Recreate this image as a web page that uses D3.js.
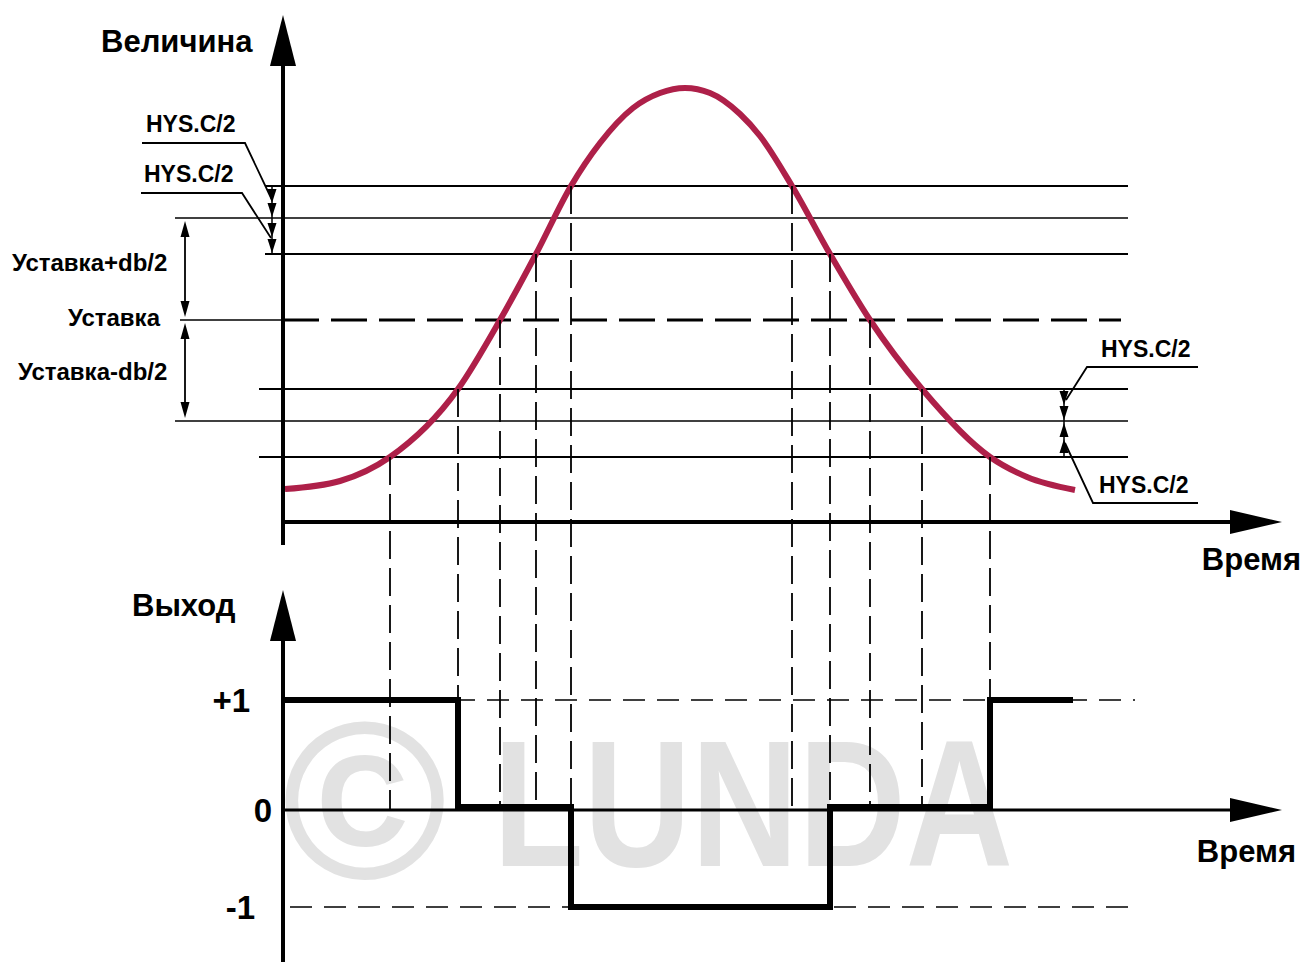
<!DOCTYPE html>
<html><head><meta charset="utf-8">
<script src="https://cdn.jsdelivr.net/npm/d3@7"></script>
<style>body{margin:0;background:#fff} svg{display:block}</style>
</head><body>
<script>
// ---------- data ----------
const curveTime  = [0.2, 5.7, 10.7, 17.5, 21.7, 25.3, 28.8, 31.7, 35.0, 37.7, 40.2, 42.7, 45.7, 47.7, 50.9, 54.7, 58.7, 63.9, 70.7, 74.4, 79.2];
const curveValue = [-16.9, -16.1, -13.7, -6.9, 0, 6.6, 13.4, 17.7, 21.2, 22.7, 23.2, 22.7, 20.6, 18.4, 13.4, 6.6, 0, -6.9, -13.7, -15.7, -17.0];
const levelValues = [13.4, 10.2, 6.6, 0, -6.9, -10.1, -13.7];
const crossTimes  = [10.7, 17.5, 21.7, 25.3, 28.8, 50.9, 54.7, 58.7, 63.9, 70.7];
const crossLevels = [-13.7, -6.9, 0, 6.6, 13.4, 13.4, 6.6, 0, -6.9, -13.7];
const outputTime  = [0.2, 17.5, 28.8, 54.7, 70.7, 79.0];
const outputValue = [1, 0, -1, 0, 1, 1];
const outputTicks = [1, 0, -1];
const outputTickLabels = ["+1", "0", "-1"];
const levelLabels = ["Уставка+db/2", "Уставка", "Уставка-db/2"];
const hysLabel = "HYS.C/2";
const titleTop = "Величина", titleBottom = "Выход", timeLabel = "Время", watermark = "LUNDA";

// ---------- layout ----------
const W = 1302, H = 962;
const FONT = "'Liberation Sans', Arial, sans-serif";
const RED = "#ae2049";
const svg = d3.select("body").append("svg").attr("width", W).attr("height", H);

const x = d3.scaleLinear().domain([0, 100]).range([283, 1283]);
const yTop = d3.scaleLinear().domain([-20.2, 30.5]).range([522, 15]);
const yBot = d3.scaleLinear().domain([-1, 0, 1]).range([907, 810, 700]);
const xEnd = x(84.5);

// watermark
const wm = svg.append("g").attr("fill", "#e2e2e2");
wm.append("text").attr("x", 282).attr("y", 878).attr("font-family", FONT).attr("font-weight", "bold")
  .attr("font-size", 224).text("©");
wm.append("text").attr("x", 493).attr("y", 866).attr("font-family", FONT).attr("font-weight", "bold")
  .attr("font-size", 180).attr("textLength", 520).attr("lengthAdjust", "spacingAndGlyphs").text(watermark);

// ---------- top chart ----------
const levelStart = [265, 175, 265, 180, 259, 175, 259];
const gTop = svg.append("g");
levelValues.forEach((v, i) => {
  if (v === 0) {
    gTop.append("line").attr("x1", levelStart[i]).attr("x2", x(0)).attr("y1", yTop(v)).attr("y2", yTop(v))
      .attr("stroke", "#000").attr("stroke-width", 1.3);
    gTop.append("line").attr("x1", x(0)).attr("x2", x(83.8)).attr("y1", yTop(v)).attr("y2", yTop(v))
      .attr("stroke", "#000").attr("stroke-width", 3).attr("stroke-dasharray", "36,12");
  } else {
    const w = (i === 1 || i === 5) ? 1.5 : 2;
    gTop.append("line").attr("x1", levelStart[i]).attr("x2", xEnd).attr("y1", yTop(v)).attr("y2", yTop(v))
      .attr("stroke", "#000").attr("stroke-width", w);
  }
});

// vertical dashed projection lines
crossTimes.forEach((t, i) => {
  svg.append("line").attr("x1", x(t)).attr("x2", x(t))
    .attr("y1", yTop(crossLevels[i])).attr("y2", yBot(0))
    .attr("stroke", "#000").attr("stroke-width", 1.8).attr("stroke-dasharray", "28,9");
});

// curve
const pts = curveTime.map((t, i) => [t, curveValue[i]]);
gTop.append("path").datum(pts)
  .attr("d", d3.line().x(d => x(d[0])).y(d => yTop(d[1])).curve(d3.curveMonotoneX))
  .attr("fill", "none").attr("stroke", RED).attr("stroke-width", 6).attr("stroke-linecap", "butt");

// axes top
gTop.append("line").attr("x1", x(0)).attr("x2", x(0)).attr("y1", 545).attr("y2", 60)
  .attr("stroke", "#000").attr("stroke-width", 4);
gTop.append("path").attr("d", `M${x(0)},15 L${x(0)-13},66 L${x(0)+13},66 Z`).attr("fill", "#000");
gTop.append("line").attr("x1", x(0)).attr("x2", 1235).attr("y1", yTop(-20.2)).attr("y2", yTop(-20.2))
  .attr("stroke", "#000").attr("stroke-width", 4);
gTop.append("path").attr("d", `M1282,${yTop(-20.2)} L1230,${yTop(-20.2)-12} L1230,${yTop(-20.2)+12} Z`).attr("fill", "#000");

// ---------- text helpers ----------
function label(x0, y0, txt, size, anchor) {
  return svg.append("text").attr("x", x0).attr("y", y0).attr("font-family", FONT)
    .attr("font-weight", "bold").attr("font-size", size).attr("text-anchor", anchor || "start")
    .attr("fill", "#000").text(txt);
}
function tri(cx, tipY, dir, w, h) { // dir: 1 down, -1 up
  svg.append("path").attr("d", `M${cx},${tipY} L${cx-w/2},${tipY-dir*h} L${cx+w/2},${tipY-dir*h} Z`).attr("fill", "#000");
}

label(101, 52, titleTop, 31);
label(1301, 570, timeLabel, 31, "end");

// left HYS labels with leaders
label(146, 132, hysLabel, 23);
label(144, 182, hysLabel, 23);
svg.append("path").attr("d", "M142,143 L245,143 L272,200").attr("fill", "none").attr("stroke", "#000").attr("stroke-width", 1.8);
svg.append("path").attr("d", "M141,193 L242,193 L271,238").attr("fill", "none").attr("stroke", "#000").attr("stroke-width", 1.8);
svg.append("line").attr("x1", 272).attr("x2", 272).attr("y1", yTop(13.4)).attr("y2", yTop(6.6)).attr("stroke", "#000").attr("stroke-width", 1.5);
tri(272, 203, 1, 9, 14); tri(272, 217, 1, 9, 14); tri(272, 237, 1, 9, 14); tri(272, 253, 1, 9, 14);

// right HYS labels with leaders
label(1101, 357, hysLabel, 23);
label(1099, 493, hysLabel, 23);
svg.append("path").attr("d", "M1198,367 L1087,367 L1066,400").attr("fill", "none").attr("stroke", "#000").attr("stroke-width", 1.8);
svg.append("path").attr("d", "M1198,503 L1093,503 L1065,443").attr("fill", "none").attr("stroke", "#000").attr("stroke-width", 1.8);
svg.append("line").attr("x1", 1064).attr("x2", 1064).attr("y1", yTop(-6.9)).attr("y2", yTop(-13.7)).attr("stroke", "#000").attr("stroke-width", 1.5);
tri(1064, 405, 1, 9, 14); tri(1064, 420, 1, 9, 14); tri(1064, 423, -1, 9, 14); tri(1064, 439, -1, 9, 14);

// setpoint labels + dimension arrows
label(12, 271, levelLabels[0], 24);
label(68, 326, levelLabels[1], 24);
label(18, 380, levelLabels[2], 24);
function dimArrow(cx, y1, y2) {
  svg.append("line").attr("x1", cx).attr("x2", cx).attr("y1", y1 + 10).attr("y2", y2 - 10).attr("stroke", "#000").attr("stroke-width", 1.8);
  tri(cx, y1, -1, 9, 16); tri(cx, y2, 1, 9, 16);
}
dimArrow(185, yTop(10.2) + 3, yTop(0) - 3);
dimArrow(185, yTop(0) + 3, yTop(-10.1) - 3);

// ---------- bottom chart ----------
const bot = svg.append("g");
[1, -1].forEach(v => {
  bot.append("line").attr("x1", v === 1 ? x(0) : x(0.7)).attr("x2", x(85.2)).attr("y1", yBot(v)).attr("y2", yBot(v))
    .attr("stroke", "#000").attr("stroke-width", 1.3).attr("stroke-dasharray", "22,12");
});
bot.append("line").attr("x1", x(0)).attr("x2", 1235).attr("y1", yBot(0)).attr("y2", yBot(0))
  .attr("stroke", "#000").attr("stroke-width", 3);
bot.append("path").attr("d", `M1282,${yBot(0)} L1230,${yBot(0)-12} L1230,${yBot(0)+12} Z`).attr("fill", "#000");
bot.append("line").attr("x1", x(0)).attr("x2", x(0)).attr("y1", 962).attr("y2", 635)
  .attr("stroke", "#000").attr("stroke-width", 4);
bot.append("path").attr("d", `M${x(0)},590 L${x(0)-13},641 L${x(0)+13},641 Z`).attr("fill", "#000");

// step output
const steps = outputTime.map((t, i) => [t, outputValue[i]]);
bot.append("path").datum(steps)
  .attr("d", d3.line().x(d => x(d[0])).y(d => yBot(d[1]) - (d[1] === 0 ? 3 : 0)).curve(d3.curveStepAfter))
  .attr("fill", "none").attr("stroke", "#000").attr("stroke-width", 6).attr("stroke-linejoin", "miter");

// output axis labels
const tickDx = [-33, -11, -28];
const ax = bot.append("g").attr("transform", `translate(${x(0)},0)`)
  .call(d3.axisLeft(yBot).tickValues(outputTicks).tickSize(0).tickPadding(0)
    .tickFormat((d, i) => outputTickLabels[i]));
ax.select(".domain").remove();
ax.selectAll("text").attr("font-family", FONT).attr("font-weight", "bold").attr("font-size", 33)
  .attr("fill", "#000").attr("dy", "0.36em").attr("x", (d, i) => tickDx[i]);

label(132, 616, titleBottom, 31);
label(1296, 862, timeLabel, 31, "end");
</script>
</body></html>
